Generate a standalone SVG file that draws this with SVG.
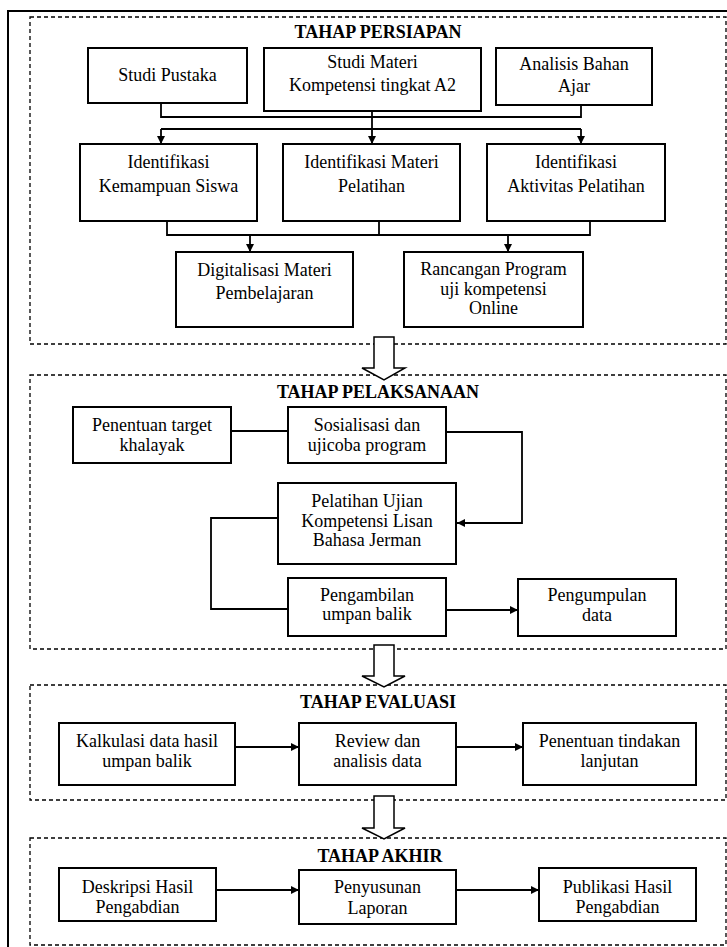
<svg xmlns="http://www.w3.org/2000/svg" width="727" height="947" viewBox="0 0 727 947">
<style>
  .bg{fill:#fff}
  .frame{fill:none;stroke:#000;stroke-width:2}
  .stage{fill:none;stroke:#000;stroke-width:1.3;stroke-dasharray:4 3}
  .box{fill:#fff;stroke:#000;stroke-width:2}
  .t{font-family:"Liberation Serif","Times New Roman",serif;font-size:18px;fill:#000;text-anchor:middle}
  .h{font-family:"Liberation Serif","Times New Roman",serif;font-size:18px;font-weight:bold;fill:#000;text-anchor:middle}
  .c{fill:none;stroke:#000;stroke-width:1.8}
  .big{fill:#fff;stroke:#000;stroke-width:1.5;stroke-linejoin:miter}
</style>
<defs>
  <marker id="ah" markerWidth="10" markerHeight="10" refX="9" refY="5" orient="auto" markerUnits="userSpaceOnUse">
    <path d="M1,1 L9,5 L1,9 Z" fill="#000"/>
  </marker>
</defs>
<rect class="bg" x="0" y="0" width="727" height="947"/>
<rect class="frame" x="8" y="11" width="730" height="945"/>

<g id="stages">
  <rect class="stage" x="30" y="17" width="696" height="327"/>
  <rect class="stage" x="30" y="375" width="696" height="274"/>
  <rect class="stage" x="30" y="685" width="696" height="115"/>
  <rect class="stage" x="30" y="838" width="696" height="107"/>
  <text class="h" x="378" y="38">TAHAP PERSIAPAN</text>
  <text class="h" x="378" y="398">TAHAP PELAKSANAAN</text>
  <text class="h" x="378" y="708">TAHAP EVALUASI</text>
  <text class="h" x="380" y="862">TAHAP AKHIR</text>
</g>

<g id="connectors">
  <path class="c" d="M161,103 V117 H581 V105"/>
  <path class="c" d="M372,111 V129"/>
  <path class="c" d="M161,129 H581"/>
  <path class="c" d="M161,129 V144" marker-end="url(#ah)"/>
  <path class="c" d="M372,129 V144" marker-end="url(#ah)"/>
  <path class="c" d="M581,129 V144" marker-end="url(#ah)"/>
  <path class="c" d="M167,221 V235 H590 V221"/>
  <path class="c" d="M379,221 V235"/>
  <path class="c" d="M250,235 V252" marker-end="url(#ah)"/>
  <path class="c" d="M508,235 V252" marker-end="url(#ah)"/>
  <path class="c" d="M231,431 H288"/>
  <path class="c" d="M446,432 H522 V523 H457" marker-end="url(#ah)"/>
  <path class="c" d="M278,518 H211 V609 H288"/>
  <path class="c" d="M446,610 H518" marker-end="url(#ah)"/>
  <path class="c" d="M235,747 H299" marker-end="url(#ah)"/>
  <path class="c" d="M456,747 H523" marker-end="url(#ah)"/>
  <path class="c" d="M216,890 H299" marker-end="url(#ah)"/>
  <path class="c" d="M456,890 H539" marker-end="url(#ah)"/>
  <polygon class="big" points="374,337 394,337 394,368 405,368 384,380 362,368 374,368"/>
  <polygon class="big" points="374,645 394,645 394,676 405,676 384,687 362,676 374,676"/>
  <polygon class="big" points="374,796 394,796 394,828 405,828 384,839 362,828 374,828"/>
</g>

<g id="studi-pustaka"><rect class="box" x="88" y="48" width="159" height="55"/><text class="t" x="167.5" y="81">Studi Pustaka</text></g>
<g id="studi-materi"><rect class="box" x="264" y="48" width="217" height="63"/><text class="t" x="372.5" y="68">Studi Materi</text><text class="t" x="372.5" y="91">Kompetensi tingkat A2</text></g>
<g id="analisis"><rect class="box" x="496" y="48" width="156" height="57"/><text class="t" x="574" y="70">Analisis Bahan</text><text class="t" x="574" y="92">Ajar</text></g>

<g id="id-kemampuan"><rect class="box" x="80" y="144" width="177" height="77"/><text class="t" x="168.5" y="168">Identifikasi</text><text class="t" x="168.5" y="192">Kemampuan Siswa</text></g>
<g id="id-materi"><rect class="box" x="283" y="144" width="177" height="77"/><text class="t" x="371.5" y="168">Identifikasi Materi</text><text class="t" x="371.5" y="192">Pelatihan</text></g>
<g id="id-aktivitas"><rect class="box" x="487" y="144" width="178" height="77"/><text class="t" x="576" y="168">Identifikasi</text><text class="t" x="576" y="192">Aktivitas Pelatihan</text></g>

<g id="digitalisasi"><rect class="box" x="176" y="252" width="177" height="75"/><text class="t" x="264.5" y="276">Digitalisasi Materi</text><text class="t" x="264.5" y="299">Pembelajaran</text></g>
<g id="rancangan"><rect class="box" x="404" y="252" width="179" height="75"/><text class="t" x="493.5" y="275">Rancangan Program</text><text class="t" x="493.5" y="295">uji kompetensi</text><text class="t" x="493.5" y="314">Online</text></g>

<g id="penentuan-target"><rect class="box" x="73" y="407" width="158" height="56"/><text class="t" x="152" y="431">Penentuan target</text><text class="t" x="152" y="451">khalayak</text></g>
<g id="sosialisasi"><rect class="box" x="288" y="407" width="158" height="56"/><text class="t" x="367" y="431">Sosialisasi dan</text><text class="t" x="367" y="451">ujicoba program</text></g>
<g id="pelatihan"><rect class="box" x="278" y="483" width="178" height="81"/><text class="t" x="367" y="507">Pelatihan Ujian</text><text class="t" x="367" y="527">Kompetensi Lisan</text><text class="t" x="367" y="546">Bahasa Jerman</text></g>
<g id="pengambilan"><rect class="box" x="288" y="578" width="158" height="58"/><text class="t" x="367" y="601">Pengambilan</text><text class="t" x="367" y="620">umpan balik</text></g>
<g id="pengumpulan"><rect class="box" x="518" y="579" width="158" height="57"/><text class="t" x="597" y="601">Pengumpulan</text><text class="t" x="597" y="621">data</text></g>

<g id="kalkulasi"><rect class="box" x="59" y="723" width="176" height="62"/><text class="t" x="147" y="747">Kalkulasi data hasil</text><text class="t" x="147" y="767">umpan balik</text></g>
<g id="review"><rect class="box" x="299" y="723" width="157" height="62"/><text class="t" x="377.5" y="747">Review dan</text><text class="t" x="377.5" y="767">analisis data</text></g>
<g id="penentuan-tindakan"><rect class="box" x="523" y="723" width="173" height="62"/><text class="t" x="609.5" y="747">Penentuan tindakan</text><text class="t" x="609.5" y="767">lanjutan</text></g>

<g id="deskripsi"><rect class="box" x="59" y="868" width="157" height="53"/><text class="t" x="137.5" y="893">Deskripsi Hasil</text><text class="t" x="137.5" y="913">Pengabdian</text></g>
<g id="penyusunan"><rect class="box" x="299" y="870" width="157" height="54"/><text class="t" x="377.5" y="893">Penyusunan</text><text class="t" x="377.5" y="914">Laporan</text></g>
<g id="publikasi"><rect class="box" x="539" y="868" width="157" height="53"/><text class="t" x="617.5" y="893">Publikasi Hasil</text><text class="t" x="617.5" y="913">Pengabdian</text></g>
</svg>
